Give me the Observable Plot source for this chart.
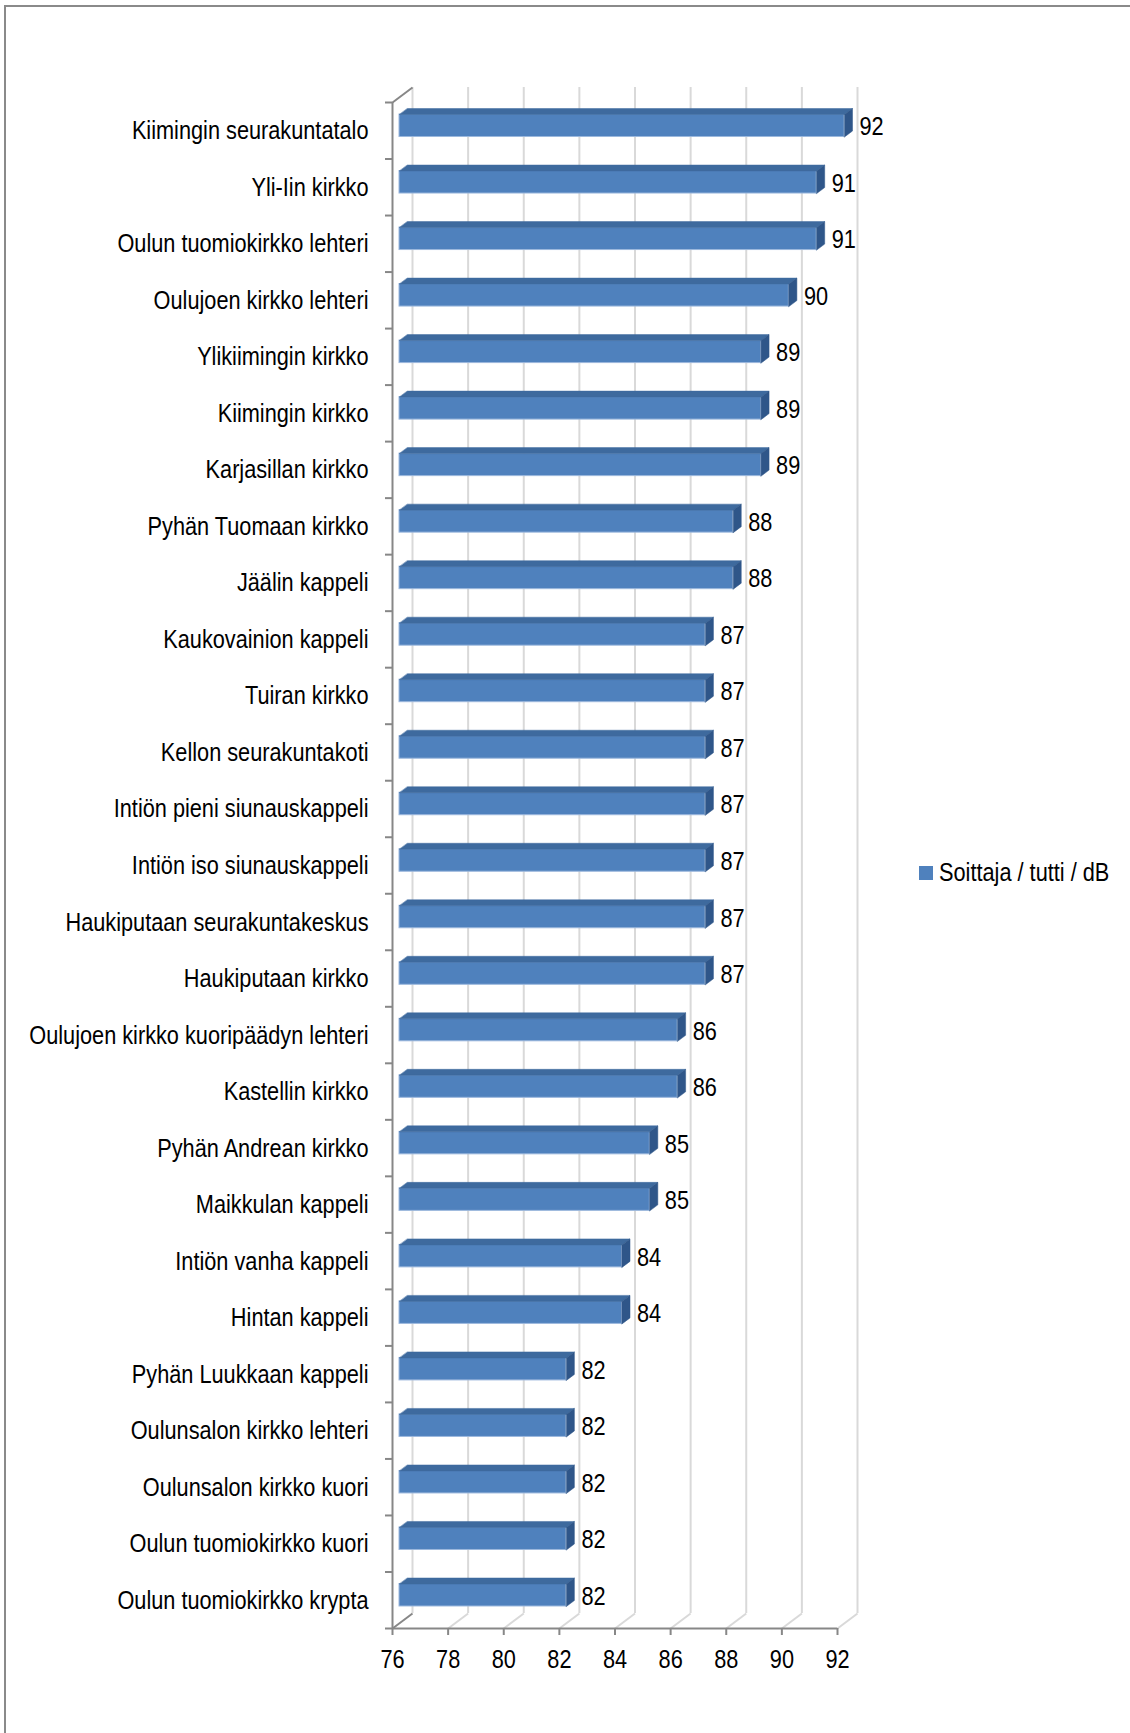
<!DOCTYPE html>
<html>
<head>
<meta charset="utf-8">
<script src="https://cdn.jsdelivr.net/npm/d3@7"></script>
<script src="https://cdn.jsdelivr.net/npm/@observablehq/plot@0.6"></script>
<style>
  html, body { margin: 0; padding: 0; background: #fff; }
  body { width: 1130px; height: 1733px; position: relative; overflow: hidden;
         font-family: 'Liberation Sans', Arial, sans-serif; }
  #frame { position: absolute; left: 4px; top: 5px; width: 1140px; height: 1740px;
           border-top: 2px solid #8a8a8a; border-left: 2px solid #8a8a8a; box-sizing: border-box; }
  #chart { position: absolute; left: 0; top: 0; }
  #legend { position: absolute; left: 919px; top: 857px; display: flex; align-items: center;
            font-size: 26.5px; color: #000; white-space: nowrap; }
  #legend .sw { width: 14px; height: 14px; background: #4F81BD; margin-right: 6px; flex: none; }
  #legend span { display: inline-block; transform: scaleX(0.82); transform-origin: left center; }
</style>
</head>
<body>
<div id="frame"></div>
<div id="chart"></div>
<div id="legend"><div class="sw"></div><span>Soittaja / tutti / dB</span></div>
<script>
const categories = [
  "Kiimingin seurakuntatalo", "Yli-Iin kirkko", "Oulun tuomiokirkko lehteri",
  "Oulujoen kirkko lehteri", "Ylikiimingin kirkko", "Kiimingin kirkko",
  "Karjasillan kirkko", "Pyhän Tuomaan kirkko", "Jäälin kappeli",
  "Kaukovainion kappeli", "Tuiran kirkko", "Kellon seurakuntakoti",
  "Intiön pieni siunauskappeli", "Intiön iso siunauskappeli",
  "Haukiputaan seurakuntakeskus", "Haukiputaan kirkko",
  "Oulujoen kirkko kuoripäädyn lehteri", "Kastellin kirkko",
  "Pyhän Andrean kirkko", "Maikkulan kappeli", "Intiön vanha kappeli",
  "Hintan kappeli", "Pyhän Luukkaan kappeli", "Oulunsalon kirkko lehteri",
  "Oulunsalon kirkko kuori", "Oulun tuomiokirkko kuori", "Oulun tuomiokirkko krypta"
];
const values = [92, 91, 91, 90, 89, 89, 89, 88, 88, 87, 87, 87, 87, 87, 87, 87, 86, 86, 85, 85, 84, 84, 82, 82, 82, 82, 82];
const xTicks = [76, 78, 80, 82, 84, 86, 88, 90, 92];
const seriesName = "Soittaja / tutti / dB";

const W = 1130, H = 1733;
const mL = 392, mR = 293, mT = 102, mB = 105;
const xMin = xTicks[0], xMax = xTicks[xTicks.length - 1];
const n = categories.length;
const kx = (W - mL - mR) / (xMax - xMin); // px per x unit
const ky = (H - mT - mB) / n;             // px per category

// 3D depth offsets (px) converted to data units
const wallDX = 20 / kx, wallDY = -15 / ky;
const barDX = 8 / kx, barDY = -6 / ky;
const half = 11.25 / ky;

const rows = categories.map((c, i) => ({c, i, v: values[i], yc: i + 0.5, y1: i + 0.5 - half, y2: i + 0.5 + half}));

const topFaces = [], sideFaces = [];
rows.forEach(r => {
  topFaces.push(
    {id: r.i, x: xMin, y: r.y1}, {id: r.i, x: r.v, y: r.y1},
    {id: r.i, x: r.v + barDX, y: r.y1 + barDY}, {id: r.i, x: xMin + barDX, y: r.y1 + barDY});
  sideFaces.push(
    {id: r.i, x: r.v, y: r.y1}, {id: r.i, x: r.v + barDX, y: r.y1 + barDY},
    {id: r.i, x: r.v + barDX, y: r.y2 + barDY}, {id: r.i, x: r.v, y: r.y2});
});

const boundaries = d3.range(0, n + 1);
const axisColor = "#878787", gridColor = "#d9d9d9";
const shift = {dx: 7, dy: -5};
const FS = 26.5;

const chart = Plot.plot({
  width: W, height: H,
  marginLeft: mL, marginRight: mR, marginTop: mT, marginBottom: mB,
  style: {fontFamily: "'Liberation Sans', Arial, sans-serif", fontSize: FS + "px", color: "#000", background: "transparent", overflow: "visible"},
  x: {domain: [xMin, xMax], axis: null},
  y: {domain: [0, n], reverse: true, axis: null},
  marks: [
    // back wall gridlines
    Plot.ruleX(xTicks, {x: d => d, y1: () => 0, y2: () => n, dx: 20, dy: -15, stroke: gridColor, strokeWidth: 2}),
    // floor diagonals
    Plot.link(xTicks, {x1: d => d, y1: () => n, x2: d => d + wallDX, y2: () => n + wallDY,
      stroke: d => d === xMin ? axisColor : gridColor, strokeWidth: 2}),
    // left wall top diagonal
    Plot.link([xMin], {x1: d => d, y1: () => 0, x2: d => d + wallDX, y2: () => wallDY, stroke: axisColor, strokeWidth: 2}),
    // bars: front face
    Plot.rect(rows, {x1: () => xMin, x2: "v", y1: "y1", y2: "y2", fill: "#4F81BD", stroke: "#9cb8dd", strokeWidth: 1, ...shift}),
    // bars: top face
    Plot.line(topFaces, {x: "x", y: "y", z: "id", fill: "#3E6A9E", stroke: "#3E6A9E", strokeWidth: 0.5, curve: "linear-closed", ...shift}),
    // bars: side face
    Plot.line(sideFaces, {x: "x", y: "y", z: "id", fill: "#2F5689", stroke: "#2F5689", strokeWidth: 0.5, curve: "linear-closed", ...shift}),
    // value labels
    Plot.text(rows, {x: "v", y: "yc", text: d => String(d.v), textAnchor: "start", dx: 22, dy: -4, fill: "#000", fontSize: FS}),
    // front axes
    Plot.ruleX([xMin], {y1: () => 0, y2: () => n, stroke: axisColor, strokeWidth: 2}),
    Plot.ruleY([n], {x1: () => xMin, x2: () => xMax, stroke: axisColor, strokeWidth: 2}),
    Plot.axisY({ticks: boundaries, tickSize: 7, tickFormat: () => "", stroke: axisColor, strokeWidth: 2}),
    Plot.axisY({ticks: rows.map(r => r.yc), tickSize: 0, tickPadding: 24, tickFormat: y => categories[Math.floor(y)], fill: "#000", fontSize: FS}),
    Plot.axisX({ticks: xTicks, tickSize: 7, tickPadding: 14, tickFormat: d => String(d), stroke: axisColor, strokeWidth: 2, fill: "#000", fontSize: FS})
  ]
});

// Narrow the glyphs (Arial Narrow look) around each text's own anchor
chart.querySelectorAll("text").forEach(t => {
  const tr = t.getAttribute("transform");
  if (tr) {
    t.setAttribute("transform", tr + " scale(0.82,1)");
  } else {
    const x = +(t.getAttribute("x") || 0), y = +(t.getAttribute("y") || 0);
    t.setAttribute("transform", `translate(${x},${y}) scale(0.82,1) translate(${-x},${-y})`);
  }
});
document.getElementById("chart").appendChild(chart);
</script>
</body>
</html>
